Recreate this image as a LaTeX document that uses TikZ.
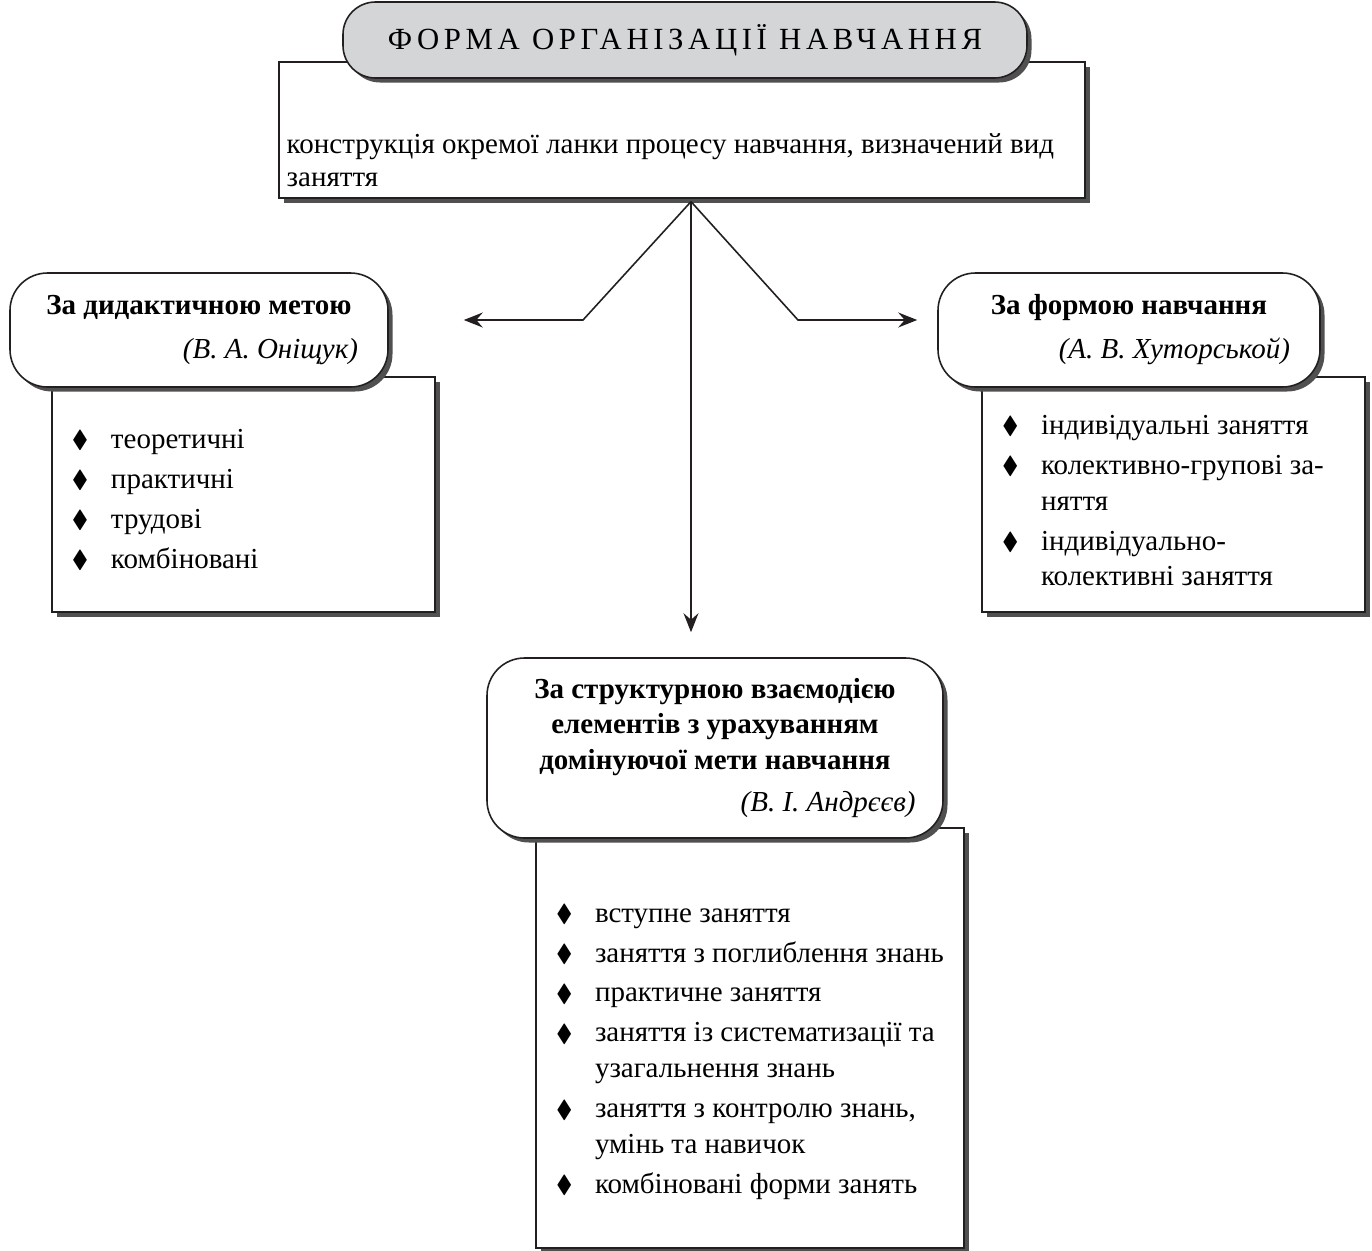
\documentclass[tikz,border=0pt]{standalone}
\usepackage{amssymb}
\usepackage{fontspec}
\setmainfont{Liberation Serif}
\usetikzlibrary{arrows.meta,shadows}
\definecolor{ink}{HTML}{231F20}
\definecolor{shadowgray}{HTML}{505050}
\definecolor{titlefill}{HTML}{D4D5D7}
\newcommand{\bul}{\makebox[0.78cm][l]{\raisebox{0.3pt}{\scalebox{0.85}{$\blacklozenge$}}}}
\newcommand{\cont}{\hspace*{0.78cm}}
\tikzset{
  flow/.style={-{Stealth[length=3.8mm,width=3mm,inset=1.3mm]},draw=ink,line width=0.9pt},
  boxshadow/.style={drop shadow={shadow xshift=0.9mm,shadow yshift=-0.9mm,fill=shadowgray,opacity=1}},
  heading/.style={draw=ink,fill=white,line width=0.9pt,rounded corners=7.5mm,boxshadow,
    align=flush center,inner xsep=6mm,inner ysep=0pt,font=\fontsize{16.5}{20}\selectfont},
  listbox/.style={draw=ink,fill=white,line width=0.7pt,boxshadow,
    align=flush left,inner xsep=4mm,inner ysep=0pt,font=\fontsize{16.5}{20.4}\selectfont},
  plainbox/.style={draw=ink,fill=white,line width=0.7pt,boxshadow,inner sep=0pt},
  titlebox/.style={draw=ink,fill=titlefill,line width=0.9pt,rounded corners=6.5mm,boxshadow,
    minimum width=13.68cm,minimum height=1.52cm,inner sep=0pt,
    font=\fontsize{17.5}{21}\selectfont\addfontfeatures{LetterSpace=15}}
}
\begin{document}
\begin{tikzpicture}
  \useasboundingbox (0,0) rectangle (27.44,-25.02);

  % definition and title
  \node[plainbox,minimum width=16.12cm,minimum height=2.72cm] (def) at (13.64,-2.60) {};
  \node[anchor=north west,align=flush left,inner sep=0pt,font=\fontsize{16.5}{18.7}\selectfont]
    (deftext) at ([xshift=1.6mm,yshift=-14.4mm]def.north west)
    {конструкція окремої ланки процесу навчання, визначений вид\\
     заняття};
  \node[titlebox] (title) at (13.70,-0.80) {ФОРМА ОРГАНІЗАЦІЇ НАВЧАННЯ};

  % left branch
  \node[listbox,text width=6.86cm,minimum height=4.70cm] (metlist) at (4.87,-9.89) {%
    \rule{0pt}{17pt}\bul теоретичні\\[2.3pt]
    \bul практичні\\[2.3pt]
    \bul трудові\\[2.3pt]
    \bul комбіновані
  };
  \node[heading,text width=6.36cm,minimum height=2.28cm] (methead) at (3.98,-6.60) {
    {\bfseries За дидактичною метою}\\[5pt]
    \hspace*{\fill}{\itshape (В. А. Оніщук)}
  };

  % right branch
  \node[listbox,text width=6.86cm,minimum height=4.70cm] (formlist) at (23.47,-9.89) {%
    \rule{0pt}{18pt}\bul індивідуальні заняття\\[2.3pt]
    \bul колективно-групові за-\\
    \cont няття\\[2.3pt]
    \bul індивідуально-\\
    \cont колективні заняття
  };
  \node[heading,text width=6.44cm,minimum height=2.28cm] (formhead) at (22.58,-6.60) {
    {\bfseries За формою навчання}\\[5pt]
    \hspace*{\fill}{\itshape (А. В. Хуторськой)}
  };

  % bottom branch
  \node[listbox,text width=7.76cm,minimum height=8.40cm] (structlist) at (15.00,-20.76) {%
    \rule{0pt}{26pt}\bul вступне заняття\\[2.3pt]
    \bul заняття з поглиблення знань\\[2.3pt]
    \bul практичне заняття\\[2.3pt]
    \bul заняття із систематизації та\\
    \cont узагальнення знань\\[2.3pt]
    \bul заняття з контролю знань,\\
    \cont умінь та навичок\\[2.3pt]
    \bul комбіновані форми занять
  };
  \node[heading,text width=8.02cm,inner xsep=5.5mm,minimum height=3.60cm] (structhead) at (14.30,-14.96) {
    {\bfseries За структурною взаємодією\\
     елементів з урахуванням\\
     домінуючої мети навчання}\\[4pt]
    \hspace*{\fill}{\itshape (В. І. Андрєєв)}
  };

  % connectors
  \coordinate (apex) at ([xshift=1.8mm,yshift=-0.6mm]def.south);
  \coordinate (kneeL) at (11.66,-6.40);
  \coordinate (kneeR) at (15.96,-6.40);
  \draw[flow,shorten >=15mm] (apex) -- (kneeL) -- (kneeL -| methead.east);
  \draw[flow,shorten >=4mm] (apex) -- (kneeR) -- (kneeR -| formhead.west);
  \draw[flow,shorten >=5mm] (apex) -- (apex |- structhead.north);
\end{tikzpicture}
\end{document}
